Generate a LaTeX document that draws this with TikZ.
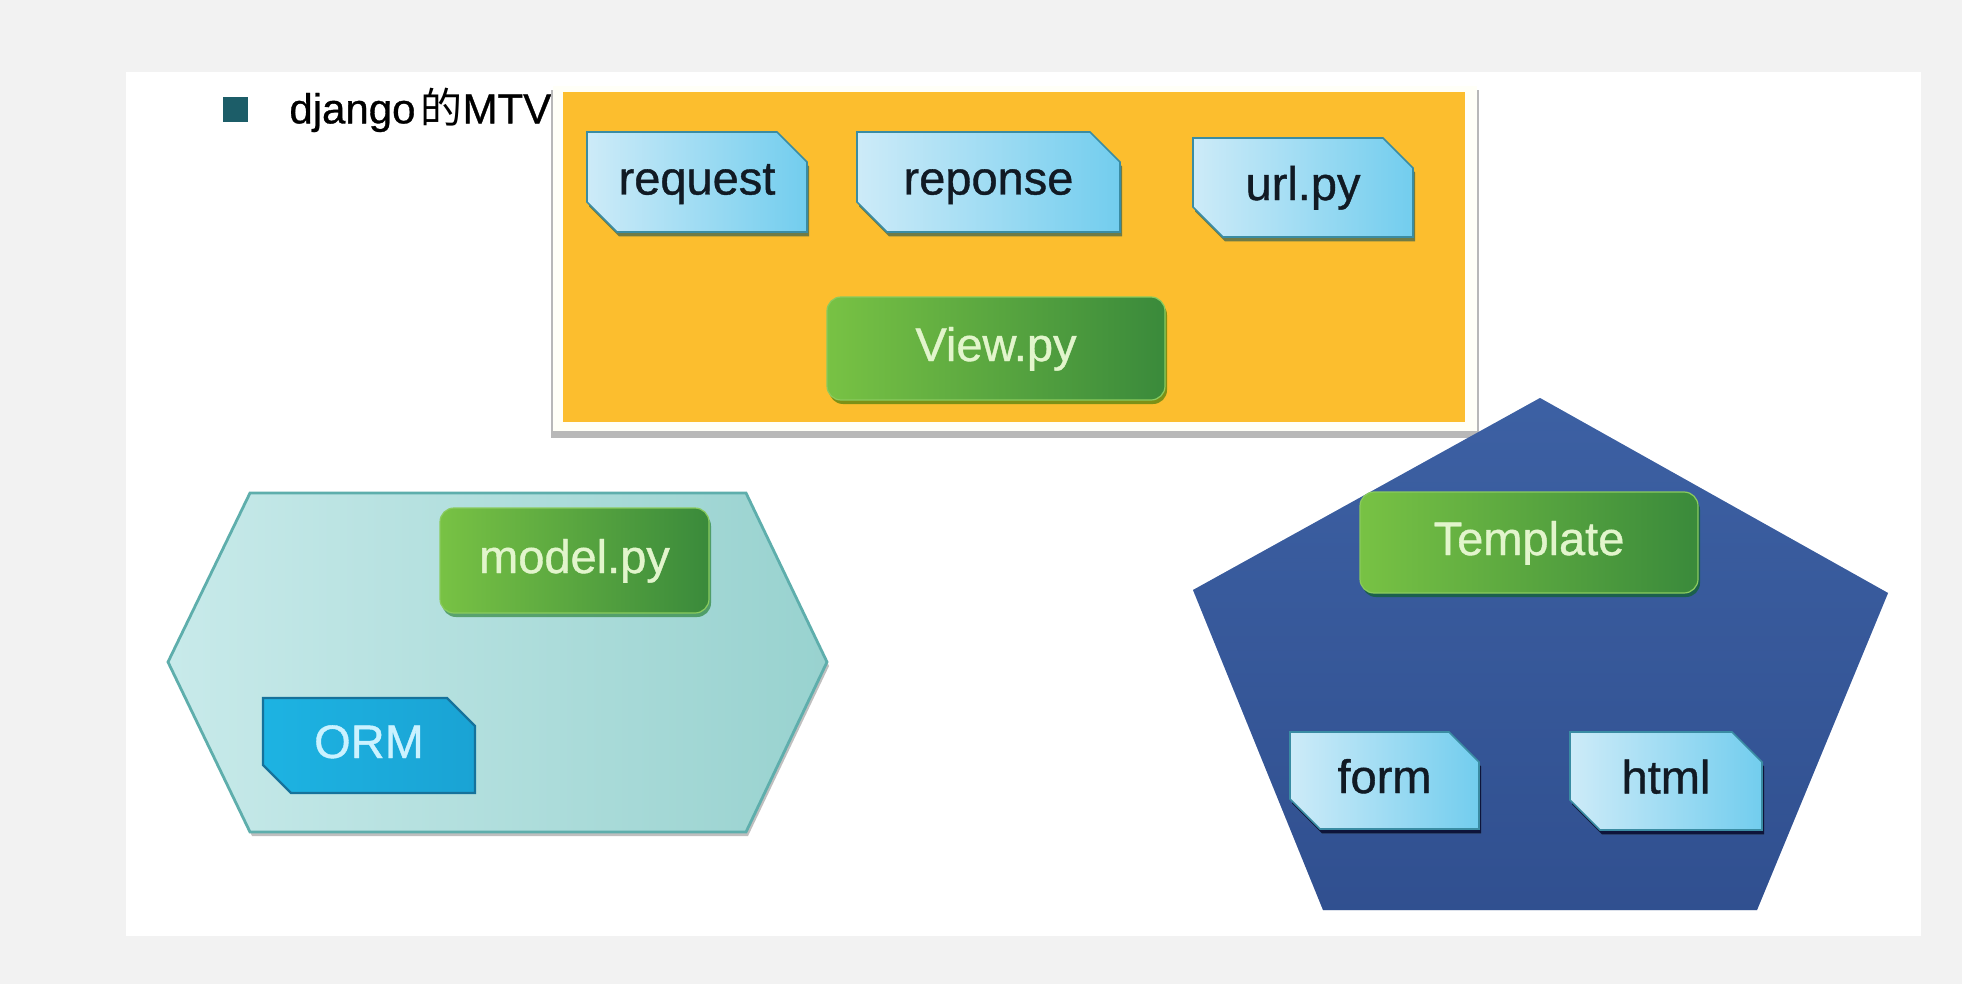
\documentclass[tikz,border=0pt]{standalone}
\usepackage{fontspec}
\setmainfont{Liberation Sans}
\newfontfamily\lblfont[FakeBold=0.8]{Liberation Sans}
\newfontfamily\cjk{Noto Sans CJK SC}
\usetikzlibrary{shapes.misc,shapes.geometric,shadows}
\definecolor{bgGray}{HTML}{F2F2F2}
\definecolor{orangeFill}{HTML}{FCBE2E}
\definecolor{bulletTeal}{HTML}{1C5D68}
\definecolor{blueLight}{HTML}{CDEBF8}
\definecolor{blueMid}{HTML}{72CDEE}
\definecolor{blueEdge}{HTML}{3A8CA3}
\definecolor{boxText}{HTML}{111A24}
\definecolor{greenLight}{HTML}{78C244}
\definecolor{greenDark}{HTML}{3A8A3B}
\definecolor{greenEdge}{HTML}{8ACB5E}
\definecolor{greenText}{HTML}{E2F5CC}
\definecolor{ormFill}{HTML}{1DB3E2}
\definecolor{ormFill2}{HTML}{1AA3D4}
\definecolor{ormEdge}{HTML}{16729B}
\definecolor{ormText}{HTML}{CBF2FF}
\definecolor{hexLight}{HTML}{C8EAEA}
\definecolor{hexDark}{HTML}{98D2CF}
\definecolor{hexEdge}{HTML}{5EAEAC}
\definecolor{pentLight}{HTML}{4B74BA}
\definecolor{pentDark}{HTML}{233D7A}
\tikzset{
  lbl/.style={font=\lblfont\fontsize{23.5pt}{26pt}\selectfont, text height=17pt, text depth=4.5pt},
  bluebox/.style={lbl, chamfered rectangle, chamfered rectangle corners={north east,south west},
    chamfered rectangle xsep=7.5pt, chamfered rectangle ysep=7.5pt,
    left color=blueLight, right color=blueMid, draw=blueEdge, line width=0.8pt,
    text=boxText, inner sep=0pt,
    drop shadow={shadow xshift=1pt, shadow yshift=-2.2pt, fill=black!70!green!40!gray, opacity=0.8}},
  greenbox/.style={lbl, rectangle, rounded corners=7pt, left color=greenLight, right color=greenDark,
    draw=greenEdge, line width=0.6pt, text=greenText, inner sep=0pt,
    drop shadow={shadow xshift=1pt, shadow yshift=-2pt, fill=black!60!green, opacity=0.5}},
  ormbox/.style={lbl, chamfered rectangle, chamfered rectangle corners={north east,south west},
    chamfered rectangle xsep=7pt, chamfered rectangle ysep=7pt,
    left color=ormFill, right color=ormFill2, draw=ormEdge, line width=1.2pt,
    text=ormText, inner sep=0pt},
}
\begin{document}
\begin{tikzpicture}[x=0.5pt,y=-0.5pt]
\useasboundingbox (0,0) rectangle (1962,984);
% background
\fill[bgGray] (0,0) rectangle (1962,984);
\fill[white] (126,72) rectangle (1921,936);
% title
\node[fill=bulletTeal, minimum size=12.5pt, inner sep=0pt] (bullet) at (235.5,109.5) {};
\node[anchor=west, inner sep=0pt, font=\lblfont\fontsize{21pt}{24pt}\selectfont, text=black] (title) at (289,110) {django\hspace{0.12em}{\cjk 的}MTV};
% orange container
\fill[black!28] (551,90) rectangle (1479,438);
\fill[white!97!yellow] (553,86) rectangle (1477,431);
\node[fill=orangeFill, minimum width=451pt, minimum height=165pt, inner sep=0pt] (viewlayer) at (1014,257) {};
% boxes in orange
\node[bluebox, minimum width=110pt, minimum height=50pt] (request) at (697,182) {request};
\node[bluebox, minimum width=131.5pt, minimum height=50pt] (reponse) at (988.5,182) {reponse};
\node[bluebox, minimum width=110pt, minimum height=49.5pt] (url) at (1303,187.5) {url.py};
\node[greenbox, minimum width=169pt, minimum height=51.5pt] (view) at (996,348.5) {View.py};
% hexagon (model layer)
\coordinate (hTL) at (250,493);
\coordinate (hTR) at (746,493);
\coordinate (hR) at (827,662);
\coordinate (hBR) at (746,832);
\coordinate (hBL) at (250,832);
\coordinate (hL) at (168,662);
\path[left color=hexLight, right color=hexDark, draw=hexEdge, line width=1.4pt,
  drop shadow={shadow xshift=1pt, shadow yshift=-2pt, fill=black, opacity=0.25}]
  (hTL) -- (hTR) -- (hR) -- (hBR) -- (hBL) -- (hL) -- cycle;
\node[greenbox, minimum width=134.5pt, minimum height=52.5pt] (model) at (574.5,560.5) {model.py};
\node[ormbox, minimum width=106pt, minimum height=47.5pt] (orm) at (369,745.5) {ORM};
% pentagon (template layer)
\coordinate (pT) at (1540,398);
\coordinate (pUR) at (1888,593);
\coordinate (pLR) at (1757,910);
\coordinate (pLL) at (1323,910);
\coordinate (pUL) at (1193,590);
\path[left color=pentLight, right color=pentDark, shading angle=0]
  (pT) -- (pUR) -- (pLR) -- (pLL) -- (pUL) -- cycle;
\path[top color=pentDark, bottom color=pentLight, fill opacity=0.35]
  (pT) -- (pUR) -- (pLR) -- (pLL) -- (pUL) -- cycle;
\node[greenbox, minimum width=169pt, minimum height=50.5pt] (template) at (1529,542.5) {Template};
\node[bluebox, minimum width=94.5pt, minimum height=48.5pt,
  drop shadow={shadow xshift=1pt, shadow yshift=-2.2pt, fill=black!80!blue, opacity=0.8}] (form) at (1384.5,780.5) {form};
\node[bluebox, minimum width=96pt, minimum height=49pt,
  drop shadow={shadow xshift=1pt, shadow yshift=-2.2pt, fill=black!80!blue, opacity=0.8}] (html) at (1666,781) {html};
\end{tikzpicture}
\end{document}
